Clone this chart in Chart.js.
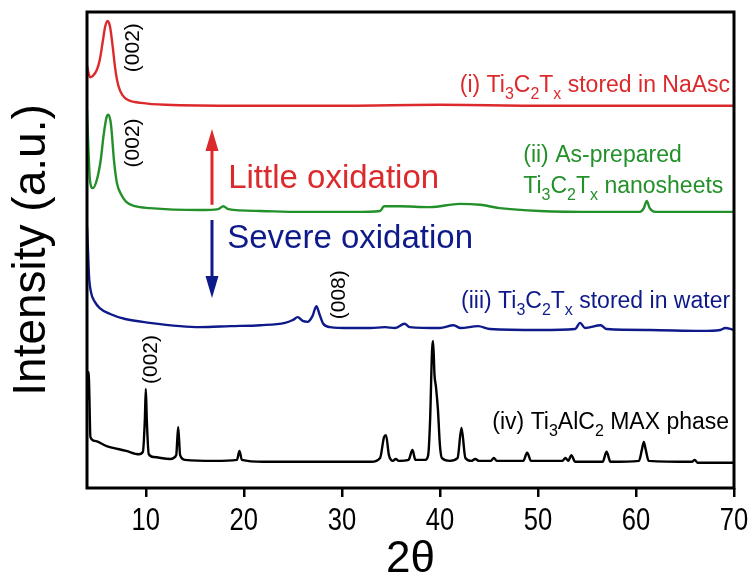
<!DOCTYPE html>
<html>
<head>
<meta charset="utf-8">
<script src="https://cdn.jsdelivr.net/npm/chart.js@4.4.1/dist/chart.umd.min.js"></script>
<style>
  body { margin: 0; background: #fff; }
</style>
</head>
<body>
<canvas id="xrd" width="754" height="583"></canvas>
<script>
// XRD patterns, 2theta (deg) vs intensity (a.u., already offset/stacked)
// (i) Ti3C2Tx stored in NaAsc
var naAscX = [4.0, 4.3, 4.6, 5.0, 5.3, 5.6, 5.85, 6.1, 6.35, 6.6, 6.9, 7.2, 7.6, 8.2, 9.5, 12, 20, 30, 40, 50, 60, 70];
var naAscY = [88.7, 86.3, 86.6, 87.8, 89.9, 93.7, 96.9, 98.1, 96.9, 93.1, 87.8, 84.5, 82.6, 81.5, 80.9, 80.5, 80.3, 80.3, 80.5, 80.3, 80.3, 80.3];

// (ii) as-prepared nanosheets
var asPrepX = [4.0, 4.15, 4.3, 4.6, 5.0, 5.4, 5.7, 6.0, 6.2, 6.45, 6.75, 7.05, 7.5, 8.0, 8.9, 10.4, 15.5, 17.4, 17.9, 18.4, 21.7, 25.7, 31.3, 33.9, 34.3, 35.9, 39.0, 42.0, 44.1, 46.1, 50.2, 56.3, 60.4, 60.8, 61.1, 61.4, 62.0, 66.6, 70.0];
var asPrepY = [79.4, 71.0, 64.7, 63.0, 64.7, 68.9, 74.2, 77.9, 78.4, 76.3, 68.9, 64.1, 61.6, 60.1, 59.2, 58.8, 58.4, 58.6, 59.2, 58.6, 58.2, 58.0, 58.0, 58.2, 59.2, 59.2, 59.0, 59.7, 59.5, 58.8, 58.2, 58.0, 58.0, 58.8, 60.3, 58.8, 58.0, 58.0, 58.0];

// (iii) stored in water
var waterX = [4.0, 4.1, 4.2, 4.4, 4.8, 5.3, 6.3, 7.9, 10.4, 13.5, 15.5, 18.6, 21.7, 24.2, 25.0, 25.5, 26.0, 26.5, 27.0, 27.4, 27.7, 28.1, 28.8, 30.8, 32.9, 34.4, 35.4, 36.4, 36.9, 40.0, 41.4, 42.1, 43.9, 45.1, 50.2, 53.8, 54.3, 54.8, 56.4, 57.0, 61.4, 66.6, 68.6, 69.1, 70.0];
var waterY = [55.0, 50.0, 44.7, 41.2, 39.1, 37.8, 36.6, 35.5, 34.7, 34.0, 33.8, 34.0, 34.2, 34.7, 35.3, 35.9, 35.1, 34.9, 36.1, 38.2, 36.6, 34.5, 33.8, 33.6, 33.6, 33.8, 33.6, 34.5, 33.8, 33.6, 34.2, 33.6, 34.0, 33.4, 33.2, 33.4, 34.7, 33.6, 34.2, 33.4, 33.2, 33.0, 33.2, 33.6, 33.2];

// (iv) Ti3AlC2 MAX phase
var maxX = [4.0, 4.1, 4.2, 4.35, 4.8, 6.0, 8.0, 9.3, 9.7, 9.9, 10.0, 10.1, 10.3, 10.8, 12.5, 13.1, 13.3, 13.5, 14.0, 17.0, 19.3, 19.55, 19.8, 22, 28, 33, 33.9, 34.3, 34.5, 34.8, 35.2, 35.5, 35.8, 36.8, 37.2, 37.5, 38.5, 38.8, 39.0, 39.2, 39.3, 39.45, 39.6, 39.8, 40.0, 40.2, 41.0, 41.8, 42.2, 42.6, 43.2, 43.6, 44.0, 45.2, 45.5, 45.8, 48.5, 48.9, 49.3, 52.5, 52.8, 53.1, 53.4, 53.8, 56.6, 57.0, 57.4, 60.3, 60.6, 60.8, 61.0, 61.3, 65.7, 66.0, 66.3, 70.0];
var maxY = [18.5, 24.4, 22.7, 10.7, 9.9, 8.8, 7.8, 7.1, 7.6, 14.3, 20.8, 14.3, 7.1, 6.5, 6.1, 6.9, 12.8, 6.9, 5.9, 5.7, 5.9, 7.8, 5.9, 5.5, 5.5, 5.5, 6.3, 10.7, 11.1, 6.9, 5.7, 6.1, 5.7, 5.9, 8.0, 5.9, 5.9, 6.9, 14.3, 29.0, 30.9, 23.7, 21.2, 16.4, 9.0, 6.3, 5.7, 6.3, 12.6, 6.3, 5.7, 6.1, 5.7, 5.7, 6.3, 5.7, 5.7, 7.4, 5.7, 5.7, 6.3, 5.7, 6.9, 5.5, 5.5, 7.6, 5.5, 5.7, 8.0, 9.7, 8.0, 5.7, 5.5, 5.9, 5.3, 5.3];

var xTicks = [10, 20, 30, 40, 50, 60, 70];

var RED = '#dc2a2c';
var GREEN = '#23902a';
var BLUE = '#0e1a8a';
var BLACK = '#000000';

function toPoints(xs, ys) {
  var pts = [];
  for (var i = 0; i < xs.length; i++) {
    pts.push({x: xs[i], y: ys[i]});
  }
  return pts;
}

// text pieces: [string, isSubscript]; x/y are in data units
var notes = [
  {parts: [['(002)', 0]], x: 8.75, y: 92.5, rot: true, color: BLACK, size: 21},
  {parts: [['(002)', 0]], x: 8.75, y: 72.5, rot: true, color: BLACK, size: 21},
  {parts: [['(008)', 0]], x: 29.7, y: 40.6, rot: true, color: BLACK, size: 21},
  {parts: [['(002)', 0]], x: 10.5, y: 27.0, rot: true, color: BLACK, size: 21},
  {parts: [['(i) Ti', 0], ['3', 1], ['C', 0], ['2', 1], ['T', 0], ['x', 1], [' stored in NaAsc', 0]], x: 69.6, y: 83.2, align: 'right', color: RED, size: 23},
  {parts: [['(ii) As-prepared', 0]], x: 48.5, y: 68.5, color: GREEN, size: 23},
  {parts: [['Ti', 0], ['3', 1], ['C', 0], ['2', 1], ['T', 0], ['x', 1], [' nanosheets', 0]], x: 48.5, y: 62.0, color: GREEN, size: 23},
  {parts: [['Little oxidation', 0]], x: 18.4, y: 63.0, color: RED, size: 33},
  {parts: [['Severe oxidation', 0]], x: 18.3, y: 50.4, color: BLUE, size: 33},
  {parts: [['(iii) Ti', 0], ['3', 1], ['C', 0], ['2', 1], ['T', 0], ['x', 1], [' stored in water', 0]], x: 69.6, y: 37.8, align: 'right', color: BLUE, size: 23},
  {parts: [['(iv) Ti', 0], ['3', 1], ['AlC', 0], ['2', 1], [' MAX phase', 0]], x: 69.5, y: 12.4, align: 'right', color: BLACK, size: 23}
];

// arrows: from (x, y0) to tip (x, y1)
var arrows = [
  {x: 16.75, y0: 59.5, y1: 75.4, color: RED},
  {x: 16.75, y0: 56.3, y1: 39.9, color: BLUE}
];

var FONT = "'Liberation Sans', Arial, sans-serif";

function partsWidth(ctx, parts, size) {
  var w = 0;
  parts.forEach(function(p) {
    ctx.font = (p[1] ? Math.round(size * 0.68) : size) + 'px ' + FONT;
    w += ctx.measureText(p[0]).width;
  });
  return w;
}

function drawParts(ctx, parts, x, y, size) {
  parts.forEach(function(p) {
    var s = p[1] ? Math.round(size * 0.68) : size;
    ctx.font = s + 'px ' + FONT;
    ctx.fillText(p[0], x, p[1] ? y + size * 0.32 : y);
    x += ctx.measureText(p[0]).width;
  });
}

var extras = {
  id: 'extras',
  afterDraw: function(chart) {
    var ctx = chart.ctx;
    var xs = chart.scales.x, ys = chart.scales.y;
    var a = chart.chartArea;
    ctx.save();
    // frame
    ctx.strokeStyle = '#000';
    ctx.lineWidth = 3;
    ctx.strokeRect(a.left, a.top, a.right - a.left, a.bottom - a.top);

    // x tick labels in a condensed look (Arial Narrow style)
    ctx.fillStyle = '#000';
    ctx.font = '32px ' + FONT;
    ctx.textAlign = 'center';
    ctx.textBaseline = 'middle';
    xs.ticks.forEach(function(t) {
      var px = xs.getPixelForValue(t.value);
      ctx.save();
      ctx.translate(px, a.bottom + 33);
      ctx.scale(0.8, 1);
      ctx.fillText(String(t.value), 0, 0);
      ctx.restore();
    });
    ctx.textAlign = 'left';

    notes.forEach(function(n) {
      var px = xs.getPixelForValue(n.x), py = ys.getPixelForValue(n.y);
      ctx.fillStyle = n.color;
      var w = partsWidth(ctx, n.parts, n.size);
      if (n.rot) {
        ctx.save();
        ctx.translate(px, py);
        ctx.rotate(-Math.PI / 2);
        ctx.textBaseline = 'middle';
        drawParts(ctx, n.parts, -w / 2, 0, n.size);
        ctx.restore();
      } else {
        ctx.textBaseline = 'alphabetic';
        drawParts(ctx, n.parts, n.align === 'right' ? px - w : px, py, n.size);
      }
    });

    arrows.forEach(function(ar) {
      var px = xs.getPixelForValue(ar.x);
      var p0 = ys.getPixelForValue(ar.y0), p1 = ys.getPixelForValue(ar.y1);
      var dir = p1 < p0 ? 1 : -1;
      ctx.strokeStyle = ar.color;
      ctx.fillStyle = ar.color;
      ctx.lineWidth = 3;
      ctx.beginPath();
      ctx.moveTo(px, p0);
      ctx.lineTo(px, p1 + dir * 18);
      ctx.stroke();
      ctx.beginPath();
      ctx.moveTo(px, p1);
      ctx.lineTo(px - 6.5, p1 + dir * 22);
      ctx.lineTo(px + 6.5, p1 + dir * 22);
      ctx.closePath();
      ctx.fill();
    });
    ctx.restore();
  }
};

function lineSet(xs, ys, color) {
  return {
    data: toPoints(xs, ys),
    borderColor: color,
    borderWidth: 2.4,
    pointRadius: 0,
    cubicInterpolationMode: 'monotone',
    fill: false
  };
}

var chart = new Chart(document.getElementById('xrd'), {
  type: 'line',
  data: {
    datasets: [
      lineSet(naAscX, naAscY, RED),
      lineSet(asPrepX, asPrepY, GREEN),
      lineSet(waterX, waterY, BLUE),
      lineSet(maxX, maxY, BLACK)
    ]
  },
  options: {
    animation: false,
    responsive: false,
    layout: {padding: {top: 12, right: 20, left: 0, bottom: 0}},
    plugins: {legend: {display: false}, tooltip: {enabled: false}},
    scales: {
      x: {
        type: 'linear',
        min: 4,
        max: 70,
        afterBuildTicks: function(scale) {
          scale.ticks = xTicks.map(function(v) { return {value: v}; });
        },
        afterFit: function(scale) { scale.height = 95; },
        border: {display: false},
        grid: {drawOnChartArea: false, drawTicks: true, tickLength: 9, color: '#000', lineWidth: 2.5},
        // labels are painted by the plugin (condensed), keep these invisible
        ticks: {color: 'rgba(0,0,0,0)', padding: 4, maxRotation: 0, font: {family: FONT, size: 28}},
        title: {display: true, text: '2θ', color: '#000', padding: {top: 0, bottom: 1}, font: {family: FONT, size: 44, lineHeight: 1}}
      },
      y: {
        min: 0,
        max: 100,
        afterFit: function(scale) { scale.width = 87; },
        border: {display: false},
        grid: {display: false},
        ticks: {display: false},
        title: {display: true, text: 'Intensity (a.u.)', color: '#000', padding: {top: 9, bottom: 9}, font: {family: FONT, size: 46, lineHeight: 1}}
      }
    }
  },
  plugins: [extras]
});
</script>
</body>
</html>
